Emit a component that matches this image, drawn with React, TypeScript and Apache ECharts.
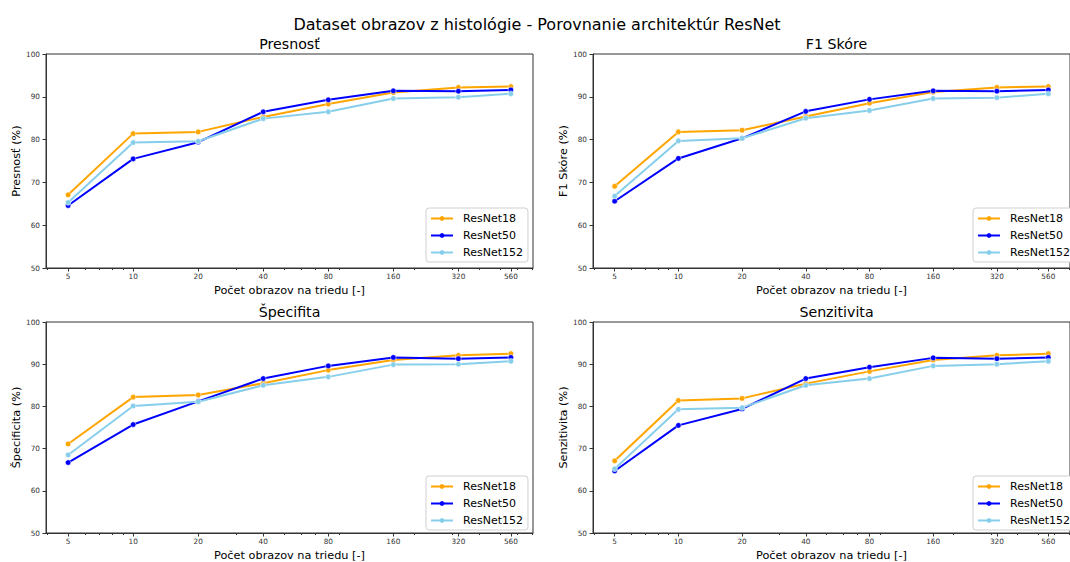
import React, { useEffect, useRef } from "react";
import * as echarts from "echarts";

const samples = [5, 10, 20, 40, 80, 160, 320, 560];
const minorTicks = [4, 6, 7, 8, 9, 20, 30, 50, 60, 70, 90, 200, 300, 400, 500, 600, 700];
const modelNames = ["ResNet18", "ResNet50", "ResNet152"];
const modelColors = ["#FFA500", "#0000FF", "#87CEEB"];
const metricTitles = ["Presnosť", "F1 Skóre", "Špecifita", "Senzitivita"];
const metricAxisNames = ["Presnosť (%)", "F1 Skóre (%)", "Špecificita (%)", "Senzitivita (%)"];

const presnostResNet18 = [67.1, 81.4, 81.8, 85.3, 88.3, 91.0, 92.2, 92.4];
const presnostResNet50 = [64.6, 75.5, 79.4, 86.5, 89.3, 91.4, 91.3, 91.6];
const presnostResNet152 = [65.3, 79.3, 79.6, 84.9, 86.5, 89.6, 89.9, 90.7];

const f1ResNet18 = [69.1, 81.8, 82.2, 85.4, 88.5, 91.1, 92.2, 92.4];
const f1ResNet50 = [65.6, 75.6, 80.3, 86.6, 89.4, 91.4, 91.3, 91.6];
const f1ResNet152 = [66.8, 79.7, 80.3, 85.0, 86.8, 89.6, 89.8, 90.7];

const specResNet18 = [71.1, 82.2, 82.7, 85.5, 88.6, 91.0, 92.1, 92.5];
const specResNet50 = [66.7, 75.7, 81.2, 86.6, 89.6, 91.6, 91.3, 91.6];
const specResNet152 = [68.5, 80.1, 81.1, 85.0, 87.0, 89.9, 90.0, 90.7];

const senzResNet18 = [67.1, 81.4, 81.9, 85.4, 88.3, 91.0, 92.1, 92.5];
const senzResNet50 = [64.7, 75.5, 79.4, 86.6, 89.3, 91.5, 91.3, 91.6];
const senzResNet152 = [65.2, 79.3, 79.7, 85.0, 86.6, 89.6, 90.0, 90.7];

const metricData = [
  [presnostResNet18, presnostResNet50, presnostResNet152],
  [f1ResNet18, f1ResNet50, f1ResNet152],
  [specResNet18, specResNet50, specResNet152],
  [senzResNet18, senzResNet50, senzResNet152],
];

const FONT = "DejaVu Sans";
const X_MIN = 3.95;
const X_MAX = 709;

export default function App() {
  const ref = useRef<HTMLDivElement>(null);
  useEffect(() => {
    if (!ref.current) return;
    const chart = echarts.init(ref.current, undefined, { renderer: "svg" });
    const frames = [
      { left: 46, top: 54 },
      { left: 593, top: 54 },
      { left: 46, top: 322 },
      { left: 593, top: 322 },
    ];
    const W = 487;
    const H = 214;
    const grids: any[] = [];
    const xAxes: any[] = [];
    const yAxes: any[] = [];
    const titles: any[] = [
      {
        text: "Dataset obrazov z histológie - Porovnanie architektúr ResNet",
        left: 537,
        top: 16,
        padding: 0,
        textAlign: "center",
        textStyle: { fontFamily: FONT, fontSize: 16, fontWeight: "normal", color: "#000" },
      },
    ];
    const legends: any[] = [];
    const series: any[] = [];
    frames.forEach((f, i) => {
      grids.push({
        left: f.left,
        top: f.top,
        width: W,
        height: H,
        show: true,
        borderColor: "#333",
        borderWidth: 1,
        backgroundColor: "#fff",
      });
      titles.push({
        text: metricTitles[i],
        left: f.left + W / 2,
        top: f.top - 17,
        padding: 0,
        textAlign: "center",
        textStyle: { fontFamily: FONT, fontSize: 14.2, fontWeight: "normal", color: "#000" },
      });
      xAxes.push({
        type: "log",
        logBase: 10,
        gridIndex: i,
        min: X_MIN,
        max: X_MAX,
        name: "Počet obrazov na triedu [-]",
        nameLocation: "middle",
        nameGap: 17,
        nameTextStyle: { fontFamily: FONT, fontSize: 11.3, color: "#000" },
        axisLine: { show: true, lineStyle: { color: "#333", width: 1 } },
        axisTick: { show: true, length: 3.5, lineStyle: { color: "#333" }, customValues: samples },
        axisLabel: {
          show: true,
          fontFamily: FONT,
          fontSize: 7.3,
          color: "#333",
          margin: 5,
          customValues: samples,
          formatter: (v: number) => String(Math.round(v)),
        },
        splitLine: { show: false },
        minorTick: { show: false },
      });
      xAxes.push({
        type: "log",
        logBase: 10,
        gridIndex: i,
        min: X_MIN,
        max: X_MAX,
        position: "bottom",
        axisLine: { show: false },
        axisTick: { show: true, length: 2, lineStyle: { color: "#333" }, customValues: minorTicks },
        axisLabel: { show: false },
        splitLine: { show: false },
      });
      yAxes.push({
        type: "value",
        gridIndex: i,
        min: 50,
        max: 100,
        interval: 10,
        name: metricAxisNames[i],
        nameLocation: "middle",
        nameGap: 24,
        nameTextStyle: { fontFamily: FONT, fontSize: 11.3, color: "#000" },
        axisLine: { show: true, lineStyle: { color: "#333", width: 1 } },
        axisTick: { show: true, length: 3.5, lineStyle: { color: "#333" } },
        axisLabel: { fontFamily: FONT, fontSize: 7.3, color: "#333", margin: 6 },
        splitLine: { show: false },
      });
      legends.push({
        left: f.left + 380,
        top: f.top + 154,
        orient: "vertical",
        data: modelNames,
        backgroundColor: "#fff",
        borderColor: "#d0d0d0",
        borderWidth: 1,
        borderRadius: 3,
        padding: [4, 5, 3, 4],
        itemGap: 4,
        itemWidth: 22,
        itemHeight: 6,
        itemStyle: { borderWidth: 0 },
        lineStyle: { width: 2 },
        textStyle: {
          fontFamily: FONT,
          fontSize: 11,
          lineHeight: 13,
          color: "#000",
          padding: [0, 0, 0, 5],
        },
      });
      modelNames.forEach((name, m) => {
        series.push({
          type: "line",
          name,
          xAxisIndex: i * 2,
          yAxisIndex: i,
          data: samples.map((s, k) => [s, metricData[i][m][k]]),
          color: modelColors[m],
          lineStyle: { color: modelColors[m], width: 2 },
          symbol: "circle",
          symbolSize: 5.5,
          showSymbol: true,
          itemStyle: { color: modelColors[m], borderColor: "#fff", borderWidth: 0.5 },
          emphasis: { disabled: true },
          z: 3 + m,
        });
      });
    });
    chart.setOption({
      animation: false,
      backgroundColor: "#fff",
      title: titles,
      grid: grids,
      xAxis: xAxes,
      yAxis: yAxes,
      legend: legends,
      series,
    });
    return () => chart.dispose();
  }, []);
  return (
    <div
      ref={ref}
      style={{ position: "fixed", left: 0, top: 0, width: 1070, height: 562, overflow: "hidden" }}
    />
  );
}
